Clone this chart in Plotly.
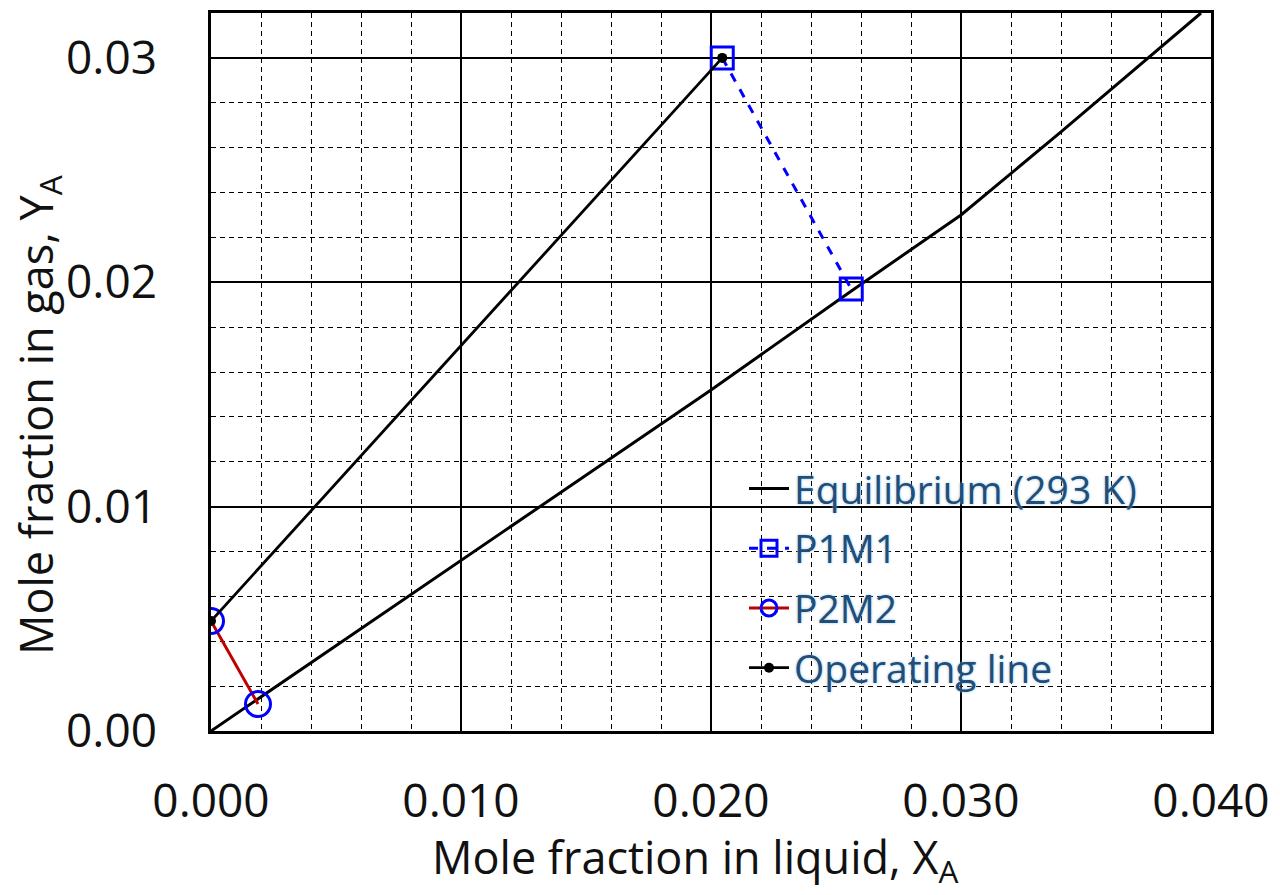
import plotly.graph_objects as go

# Equilibrium curve (293 K)
eq_x = [0.0, 0.005, 0.010, 0.015, 0.020, 0.0256, 0.030, 0.034, 0.036, 0.038, 0.0396]
eq_y = [0.0, 0.0038, 0.0076, 0.0114, 0.0152, 0.0196, 0.0230, 0.0267, 0.0286, 0.0305, 0.0320]

# P1M1 points
p1_x = [0.02045, 0.02561]
p1_y = [0.0300, 0.0197]

# P2M2 points
p2_x = [0.0, 0.00188]
p2_y = [0.0049, 0.0012]

# Operating line
op_x = [0.0, 0.02045]
op_y = [0.0049, 0.0300]

x_title = "Mole fraction in liquid, X<sub>A</sub>"
y_title = "Mole fraction in gas, Y<sub>A</sub>"

FONT = "Open Sans"

fig = go.Figure()
fig.add_trace(go.Scatter(x=eq_x, y=eq_y, mode="lines", name="Equilibrium (293 K)",
                         legendgroup="a",
                         line=dict(color="black", width=3)))
fig.add_trace(go.Scatter(x=p1_x, y=p1_y, mode="lines+markers", name="P1M1",
                         legendgroup="b",
                         line=dict(color="#0000FF", width=3, dash="dash"),
                         marker=dict(symbol="square-open", size=22, color="#0000FF",
                                     line=dict(width=3, color="#0000FF"))))
fig.add_trace(go.Scatter(x=p2_x, y=p2_y, mode="lines+markers", name="P2M2",
                         legendgroup="c",
                         line=dict(color="#C00000", width=3),
                         marker=dict(symbol="circle-open", size=25, color="#0000FF",
                                     line=dict(width=3, color="#0000FF"))))
fig.add_trace(go.Scatter(x=op_x, y=op_y, mode="lines+markers", name="Operating line",
                         legendgroup="d",
                         line=dict(color="black", width=2.8),
                         marker=dict(symbol="circle", size=10, color="black")))

axis_common = dict(
    showline=True, linecolor="black", linewidth=2.5, mirror=True,
    showgrid=True, gridcolor="black", gridwidth=1.5,
    ticks="", zeroline=False, automargin=False,
    tickfont=dict(family=FONT, size=46, color="#111111"),
    minor=dict(showgrid=True, gridcolor="black", gridwidth=1.2, griddash="5px,4px"),
)

fig.update_xaxes(range=[0, 0.04], dtick=0.01, tick0=0, tickformat=".3f",
                 ticklabelstandoff=28, **axis_common)
fig.update_xaxes(minor_dtick=0.002)
fig.update_yaxes(range=[0, 0.032], dtick=0.01, tick0=0, tickformat=".2f",
                 ticklabelstandoff=42, **axis_common)
fig.update_yaxes(minor_dtick=0.002)

title_font = dict(family=FONT, size=45, color="#111111")
fig.add_annotation(text=x_title, xref="paper", yref="paper", x=0.4837, y=-0.178,
                   xanchor="center", yanchor="middle", showarrow=False, font=title_font)
fig.add_annotation(text=y_title, xref="paper", yref="paper", x=-0.173, y=0.44,
                   xanchor="center", yanchor="middle", showarrow=False, textangle=-90,
                   font=title_font)

fig.update_layout(
    width=1280, height=895,
    margin=dict(l=211, r=69, t=13, b=164),
    plot_bgcolor="white", paper_bgcolor="white",
    showlegend=True,
    legend=dict(x=0.533, y=0.382, xanchor="left", yanchor="top",
                bgcolor="rgba(0,0,0,0)",
                font=dict(family=FONT, size=39, color="#1F4E79",
                          shadow="0px 0px 3px #9DC3E6"),
                itemwidth=40, tracegroupgap=6),
)

fig.write_html("out.html", config={"displayModeBar": False},
               post_script="document.body.style.margin='0px';")
